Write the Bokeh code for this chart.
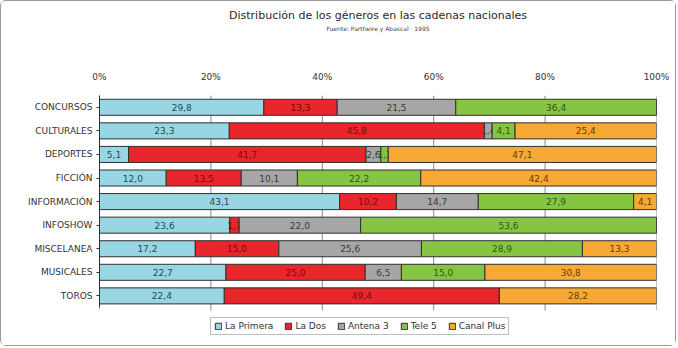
from bokeh.plotting import figure
from bokeh.models import (Range1d, FixedTicker, PrintfTickFormatter,
                          Legend, LegendItem, ColumnDataSource, Title)
from bokeh.core.properties import value
from bokeh.embed import file_html
from bokeh.resources import INLINE

categories = ["CONCURSOS", "CULTURALES", "DEPORTES", "FICCIÓN", "INFORMACIÓN",
              "INFOSHOW", "MISCELANEA", "MUSICALES", "TOROS"]
series_names = ["La Primera", "La Dos", "Antena 3", "Tele 5", "Canal Plus"]
la_primera = [29.8, 23.3, 5.1, 12.0, 43.1, 23.6, 17.2, 22.7, 22.4]
la_dos = [13.3, 45.8, 41.7, 13.5, 10.2, 1.7, 15.0, 25.0, 49.4]
antena_3 = [21.5, 1.4, 2.6, 10.1, 14.7, 22.0, 25.6, 6.5, 0.0]
tele_5 = [36.4, 4.1, 1.3, 22.2, 27.9, 53.6, 28.9, 15.0, 0.0]
canal_plus = [0.0, 25.4, 47.1, 42.4, 4.1, 0.0, 13.3, 30.8, 28.2]
tick_values = [0, 20, 40, 60, 80, 100]

series = [la_primera, la_dos, antena_3, tele_5, canal_plus]
colors = ["#97d6e2", "#e8262c", "#a6a6a6", "#86c443", "#f6a935"]
text_colors = ["#1d4b57", "#7a0a0a", "#3a3a3a", "#2b5a0e", "#6a3a00"]
FONT = "DejaVu Sans"

n = len(categories)
ypos = [n - 1 - i for i in range(n)]  # first category on top

p = figure(width=676, height=346, output_backend="svg", toolbar_location=None,
           y_range=Range1d(-1.85, n - 0.5), x_range=Range1d(0, 100),
           x_axis_location="above", min_border_left=98, min_border_right=21,
           min_border_top=94, min_border_bottom=8)
p.styles = {"border": "1px solid #9a9a9a", "border-radius": "6px"}
p.outline_line_color = None
p.xgrid.grid_line_color = None
p.ygrid.grid_line_color = None

# vertical grid lines limited to the category band
p.segment(x0=tick_values, x1=tick_values, y0=[-0.62] * len(tick_values),
          y1=[n - 0.5] * len(tick_values), line_color="#8a8a8a", line_width=1)

# normalised shares (100% stacked)
totals = [sum(s[i] for s in series) for i in range(n)]
starts = [0.0] * n
renderers = []
for k, (s, c, tc) in enumerate(zip(series, colors, text_colors)):
    left, right, mid, labels, ys = [], [], [], [], []
    for i, v in enumerate(s):
        w = 100.0 * v / totals[i]
        left.append(starts[i])
        right.append(starts[i] + w)
        starts[i] += w
    src = ColumnDataSource(dict(y=ypos, left=left, right=right))
    r = p.hbar(y="y", left="left", right="right", height=0.68, source=src,
               fill_color=c, line_color="#303030", line_width=1)
    renderers.append(r)
    for i, v in enumerate(s):
        if v > 0:
            mid.append((left[i] + right[i]) / 2)
            labels.append(("%.1f" % v).replace(".", ","))
            ys.append(ypos[i])
    tsrc = ColumnDataSource(dict(x=mid, y=ys, t=labels))
    p.text(x="x", y="y", text="t", source=tsrc, text_align="center",
           text_baseline="middle", text_font=value(FONT),
           text_font_size="9px", text_color=tc)

p.xaxis.ticker = FixedTicker(ticks=tick_values)
p.xaxis.formatter = PrintfTickFormatter(format="%d%%")
p.xaxis.axis_line_color = None
p.xaxis.major_tick_line_color = None
p.xaxis.minor_tick_line_color = None
p.xaxis.major_label_standoff = 8
p.xaxis.major_label_text_font = FONT
p.xaxis.major_label_text_font_size = "9px"
p.xaxis.major_label_text_color = "#333333"
# subtitle carried by the top axis label
p.xaxis.axis_label = "Fuente: Partheire y Abascal · 1995"
p.xaxis.axis_label_standoff = 37
p.xaxis.axis_label_text_font = FONT
p.xaxis.axis_label_text_font_size = "6px"
p.xaxis.axis_label_text_font_style = "normal"
p.xaxis.axis_label_text_color = "#444444"

p.yaxis.ticker = FixedTicker(ticks=ypos)
p.yaxis.major_label_overrides = {ypos[i]: categories[i] for i in range(n)}
p.yaxis.bounds = (-0.5, n - 0.5)
p.yaxis.axis_line_color = "#303030"
p.yaxis.major_tick_line_color = "#303030"
p.yaxis.minor_tick_line_color = None
p.yaxis.major_tick_in = 0
p.yaxis.major_tick_out = 3
p.yaxis.major_label_standoff = 4
p.yaxis.major_label_text_font = FONT
p.yaxis.major_label_text_font_size = "9px"
p.yaxis.major_label_text_color = "#333333"

p.add_layout(Title(text="Distribución de los géneros en las cadenas nacionales",
                   align="center", text_font=FONT, text_font_size="11px",
                   text_font_style="normal", text_color="#2a2a2a", standoff=0), "above")

legend = Legend(items=[LegendItem(label=nm, renderers=[r]) for nm, r in zip(series_names, renderers)],
                orientation="horizontal", location=(111, 4),
                label_text_font=FONT, label_text_font_size="9px",
                label_text_color="#333333", glyph_width=8, glyph_height=8,
                label_standoff=3, spacing=11, padding=3, margin=0,
                border_line_color="#808080", background_fill_alpha=1)
p.add_layout(legend)

open("out.html", "w").write(file_html(p, INLINE))
